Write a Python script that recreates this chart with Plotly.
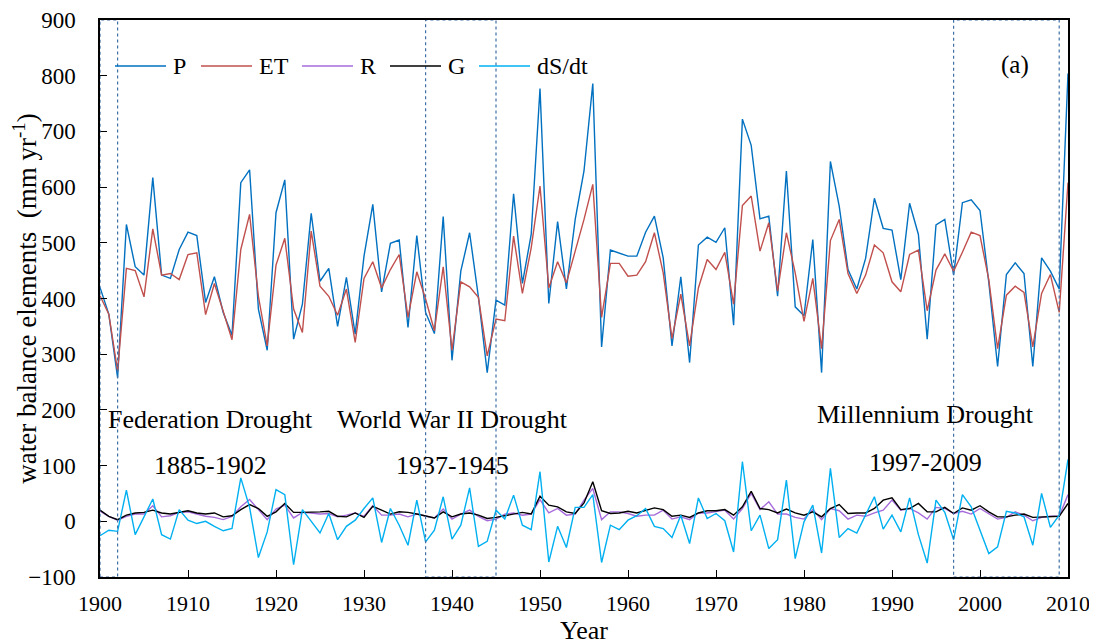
import plotly.graph_objects as go

years = list(range(1900, 2011))

P = [420, 372, 258, 533, 457, 442, 617, 442, 436, 488, 519, 513, 393, 439, 375, 334, 608, 631, 381, 307,
     554, 613, 327, 390, 553, 431, 454, 350, 438, 336, 476, 569, 412, 499, 505, 348, 513, 375, 337, 547,
     289, 449, 518, 403, 267, 397, 388, 588, 427, 515, 777, 391, 538, 417, 542, 629, 786, 313, 487, 481,
     476, 476, 519, 548, 473, 315, 439, 285, 496, 510, 501, 527, 352, 722, 675, 543, 548, 404, 629, 385,
     369, 506, 267, 646, 566, 452, 417, 472, 580, 526, 523, 434, 571, 515, 327, 532, 542, 442, 572, 577,
     558, 429, 278, 443, 464, 445, 278, 473, 449, 417, 804]

ET = [405, 372, 270, 454, 450, 403, 525, 442, 445, 434, 479, 482, 371, 427, 377, 326, 488, 551, 404, 315,
      460, 508, 381, 339, 521, 422, 404, 370, 417, 321, 436, 466, 419, 452, 479, 366, 448, 399, 342, 457,
      307, 430, 421, 402, 297, 363, 360, 512, 409, 491, 602, 419, 466, 428, 485, 542, 605, 366, 463, 463,
      440, 442, 466, 518, 446, 328, 408, 315, 419, 470, 452, 483, 390, 567, 584, 485, 536, 413, 518, 446,
      359, 436, 310, 504, 542, 445, 409, 442, 496, 482, 430, 412, 479, 487, 378, 451, 480, 449, 483, 519,
      513, 434, 310, 406, 422, 411, 313, 409, 443, 375, 608]

R = [18, 9, 2, 9, 13, 13, 28, 8, 10, 16, 17, 13, 9, 7, 3, 9, 26, 39, 21, 3,
     22, 29, 6, 16, 15, 13, 14, 8, 11, 15, 9, 28, 11, 11, 13, 8, 13, 9, 6, 22,
     4, 13, 20, 9, 1, 4, 13, 15, 11, 13, 39, 15, 23, 11, 13, 38, 59, 3, 17, 17,
     14, 9, 11, 11, 20, 4, 8, 3, 15, 15, 17, 20, 4, 23, 50, 21, 35, 13, 13, 7,
     4, 21, 3, 23, 19, 4, 11, 9, 15, 20, 38, 20, 23, 15, 4, 25, 23, 14, 18, 13,
     23, 13, 4, 7, 17, 11, 1, 7, 9, 9, 48]

G = [20, 9, 3, 11, 15, 16, 20, 15, 13, 16, 19, 15, 13, 15, 8, 10, 21, 30, 23, 9,
     17, 32, 16, 16, 16, 17, 18, 9, 8, 15, 7, 27, 20, 13, 17, 16, 13, 10, 6, 17,
     8, 13, 15, 11, 5, 7, 10, 13, 16, 13, 45, 29, 26, 17, 14, 33, 71, 19, 14, 15,
     18, 15, 19, 24, 21, 9, 11, 7, 15, 19, 19, 21, 11, 26, 54, 23, 21, 15, 22, 15,
     11, 17, 8, 23, 30, 14, 15, 15, 23, 38, 42, 21, 23, 32, 17, 17, 25, 14, 24, 20,
     28, 17, 8, 8, 11, 13, 7, 8, 9, 9, 32]

dSdt = [-26, -16, -18, 56, -24, 8, 40, -24, -32, 21, 2, -4, 0, -9, -17, -13, 78, 25, -65, -19,
        57, 48, -78, 21, -1, -21, 14, -33, -9, 2, 23, 42, -38, 23, -7, -43, 38, -37, -16, 44,
        -32, -7, 60, -45, -36, 20, 4, 47, -7, -15, 89, -73, -9, -47, 25, 25, 48, -74, -7, -15,
        2, 10, 23, -9, -13, -29, 11, -40, 42, 5, 14, 1, -55, 107, -17, 11, -49, -33, 74, -67,
        -1, 29, -57, 95, -29, -13, -21, 11, 44, -14, 11, -19, 42, -24, -75, 38, 16, -33, 48, 26,
        -15, -58, -46, 18, 15, 8, -43, 50, -11, 11, 111]

series_names = ["P", "ET", "R", "G", "dS/dt"]

drought_starts = [1900, 1937, 1997]
drought_ends = [1902, 1945, 2009]
drought_names = ["Federation Drought", "World War II Drought", "Millennium Drought"]
drought_periods = ["1885-1902", "1937-1945", "1997-2009"]

# ---- styling / layout (not data) ----
series_colors = ["#0070C0", "#C0504D", "#A66BDB", "#000000", "#00B0F0"]
FONT = "Liberation Serif, Times New Roman, serif"
drought_label_x = [1912.6, 1940.1, 1993.8]
drought_name_y = [183, 183, 192]
drought_period_y = [100, 100, 106]

# custom legend geometry in paper coords (plot area 968 px wide, 557 px tall)
PLOT_W, PLOT_H = 968.0, 557.0
legend_line_px = [15, 101, 202, 290, 379]
legend_line_len = 51
legend_text_gap = 5
legend_y = (557 - 46) / PLOT_H

fig = go.Figure()
for name, vals, col in zip(series_names, [P, ET, R, G, dSdt], series_colors):
    fig.add_trace(go.Scatter(x=years, y=vals, mode="lines", name=name, showlegend=False,
                             line=dict(color=col, width=1.4)))

for s, e in zip(drought_starts, drought_ends):
    fig.add_shape(type="rect", xref="x", yref="y", x0=s, x1=e, y0=-100, y1=900,
                  line=dict(color="#3E6FA6", width=1.2, dash="dot"), fillcolor="rgba(0,0,0,0)")

for lx, name, ny, per, py in zip(drought_label_x, drought_names, drought_name_y, drought_periods, drought_period_y):
    fig.add_annotation(x=lx, y=ny, text=name, showarrow=False,
                       font=dict(family=FONT, size=26, color="black"))
    fig.add_annotation(x=lx, y=py, text=per, showarrow=False,
                       font=dict(family=FONT, size=26, color="black"))

fig.add_annotation(x=2004.0, y=820, text="(a)", showarrow=False,
                   font=dict(family=FONT, size=25, color="black"))

# legend drawn as shapes + text
for name, col, px in zip(series_names, series_colors, legend_line_px):
    fig.add_shape(type="line", xref="paper", yref="paper",
                  x0=px / PLOT_W, x1=(px + legend_line_len) / PLOT_W, y0=legend_y, y1=legend_y,
                  line=dict(color=col, width=1.6))
    fig.add_annotation(xref="paper", yref="paper", x=(px + legend_line_len + legend_text_gap) / PLOT_W,
                       y=legend_y, text=name, showarrow=False, xanchor="left", yanchor="middle",
                       font=dict(family=FONT, size=24, color="black"))

fig.update_layout(
    width=1097, height=644,
    margin=dict(l=92, r=37, t=12, b=75),
    paper_bgcolor="white", plot_bgcolor="white",
    font=dict(family=FONT, size=22, color="black"),
    showlegend=False,
    xaxis=dict(range=[1900, 2010], tickmode="linear", tick0=1900, dtick=10, automargin=False,
               showgrid=False, zeroline=False, showline=True, linecolor="black", linewidth=1.5,
               mirror=True, ticks="inside", ticklen=7, tickcolor="black", ticklabelstandoff=6,
               title=dict(text="Year", font=dict(family=FONT, size=26), standoff=0),
               tickfont=dict(family=FONT, size=22)),
    yaxis=dict(range=[-100, 900], tickmode="linear", tick0=-100, dtick=100, automargin=False,
               showgrid=False, zeroline=False, showline=True, linecolor="black", linewidth=1.5,
               mirror=True, ticks="inside", ticklen=7, tickcolor="black", ticklabelstandoff=18,
               title=dict(text="water balance elements  (mm yr<sup>-1</sup>)",
                          font=dict(family=FONT, size=27), standoff=6),
               tickfont=dict(family=FONT, size=23)),
)

fig.write_html("out.html")
